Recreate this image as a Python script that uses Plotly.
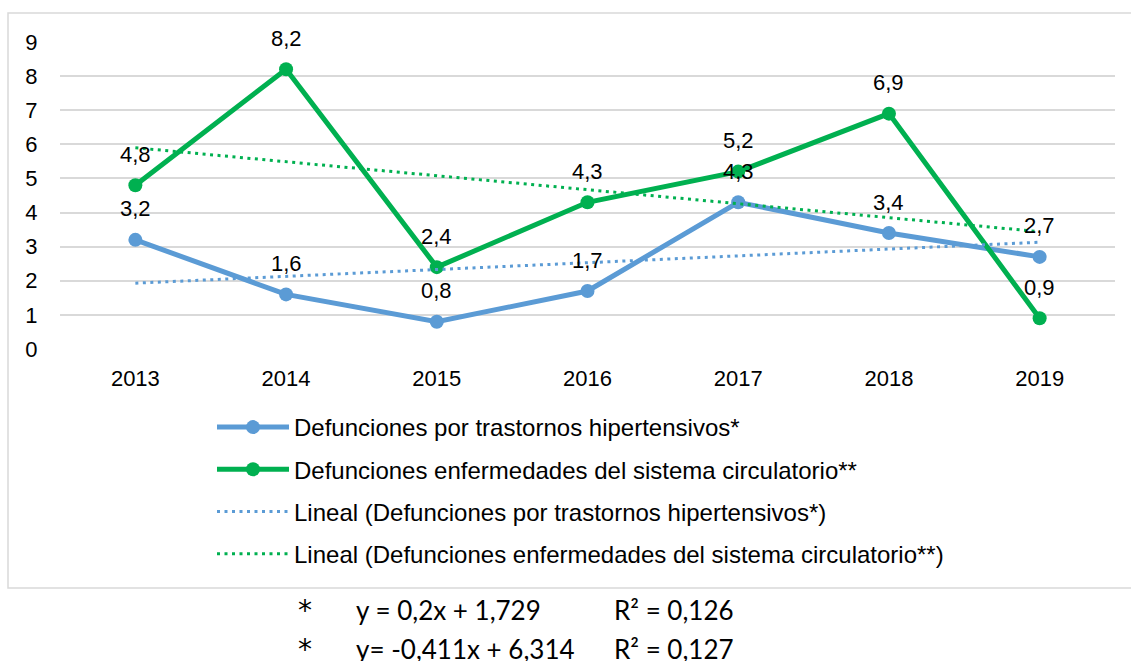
import plotly.graph_objects as go

# ---- data ----
years = ["2013", "2014", "2015", "2016", "2017", "2018", "2019"]
hipertensivos = [3.2, 1.6, 0.8, 1.7, 4.3, 3.4, 2.7]
circulatorio = [4.8, 8.2, 2.4, 4.3, 5.2, 6.9, 0.9]
# linear trend values (from y = 0,2x + 1,729 and y = -0,411x + 6,314)
trend_hipertensivos = [1.93, 2.13, 2.33, 2.53, 2.73, 2.93, 3.13]
trend_circulatorio = [5.90, 5.49, 5.08, 4.67, 4.26, 3.86, 3.44]
y_ticks = [0, 1, 2, 3, 4, 5, 6, 7, 8, 9]

name_h = "Defunciones por trastornos hipertensivos*"
name_c = "Defunciones enfermedades del sistema circulatorio**"
eq_lines = [("*", "y = 0,2x + 1,729", "R² = 0,126"),
            ("*", "y= -0,411x + 6,314", "R² = 0,127")]

BLUE = "#5B9BD5"
GREEN = "#00B050"

W, H = 1131, 661
L, R, T, B = 60, 16, 42, 312
PW, PH = W - L - R, H - T - B


def px(x):
    return (x - L) / PW


def py(y):
    return (H - B - y) / PH


fig = go.Figure()
fig.add_trace(go.Scatter(x=years, y=hipertensivos, name=name_h, mode="lines+markers",
                         line=dict(color=BLUE, width=5), marker=dict(size=14, color=BLUE),
                         legendgroup="a"))
fig.add_trace(go.Scatter(x=years, y=circulatorio, name=name_c, mode="lines+markers",
                         line=dict(color=GREEN, width=5), marker=dict(size=14, color=GREEN),
                         legendgroup="b"))
fig.add_trace(go.Scatter(x=years, y=trend_hipertensivos, name="Lineal (" + name_h + ")",
                         mode="lines", line=dict(color=BLUE, width=3, dash="3px,4.5px"),
                         legendgroup="c"))
fig.add_trace(go.Scatter(x=years, y=trend_circulatorio, name="Lineal (" + name_c + ")",
                         mode="lines", line=dict(color=GREEN, width=3, dash="3px,4.5px"),
                         legendgroup="d"))

annotations = []
for series in (hipertensivos, circulatorio):
    for i, v in enumerate(series):
        annotations.append(dict(x=i, y=v, xref="x", yref="y", text=f"{v:.1f}".replace(".", ","),
                                showarrow=False, yshift=31,
                                font=dict(family="Liberation Sans, Arial", size=22, color="#000")))

rows_y = [610, 649]
for (star, eq, r2), yy in zip(eq_lines, rows_y):
    f = dict(family="Lato, Open Sans", size=26, color="#000")
    annotations.append(dict(x=px(305), y=py(yy), xref="paper", yref="paper", text=star,
                            showarrow=False, xanchor="center", yanchor="middle",
                            font=dict(family="DejaVu Sans", size=28, color="#000")))
    annotations.append(dict(x=px(354), y=py(yy), xref="paper", yref="paper", text=eq,
                            showarrow=False, xanchor="left", yanchor="middle", font=f))
    annotations.append(dict(x=px(612), y=py(yy), xref="paper", yref="paper", text=r2,
                            showarrow=False, xanchor="left", yanchor="middle", font=f))

fig.update_layout(
    width=W, height=H,
    margin=dict(l=L, r=R, t=T, b=B),
    paper_bgcolor="white", plot_bgcolor="white",
    font=dict(family="Liberation Sans, Arial", size=22, color="#000"),
    xaxis=dict(type="category", range=[-0.5, 6.5], showgrid=False, showline=False,
               ticks="outside", ticklen=10, tickcolor="rgba(0,0,0,0)",
               tickfont=dict(size=22, color="#000"), zeroline=False),
    yaxis=dict(range=[0, 9], tickvals=y_ticks, showgrid=True, gridcolor="#D9D9D9", gridwidth=1.5,
               zeroline=False, showline=False, ticks="outside", ticklen=17,
               tickcolor="rgba(0,0,0,0)", tickfont=dict(size=22, color="#000")),
    showlegend=True,
    legend=dict(x=px(212), y=py(405), xanchor="left", yanchor="top",
                font=dict(family="Liberation Sans, Arial", size=24, color="#000"),
                itemwidth=72, tracegroupgap=8, bgcolor="rgba(0,0,0,0)",
                traceorder="grouped"),
    annotations=annotations,
    shapes=[dict(type="rect", xref="paper", yref="paper",
                 x0=px(8), x1=px(1145), y0=py(588), y1=py(13),
                 line=dict(color="#D9D9D9", width=1.5), layer="below")],
)

fig.write_html("out.html", config={"displayModeBar": False},
               post_script="document.body.style.margin='0';")
